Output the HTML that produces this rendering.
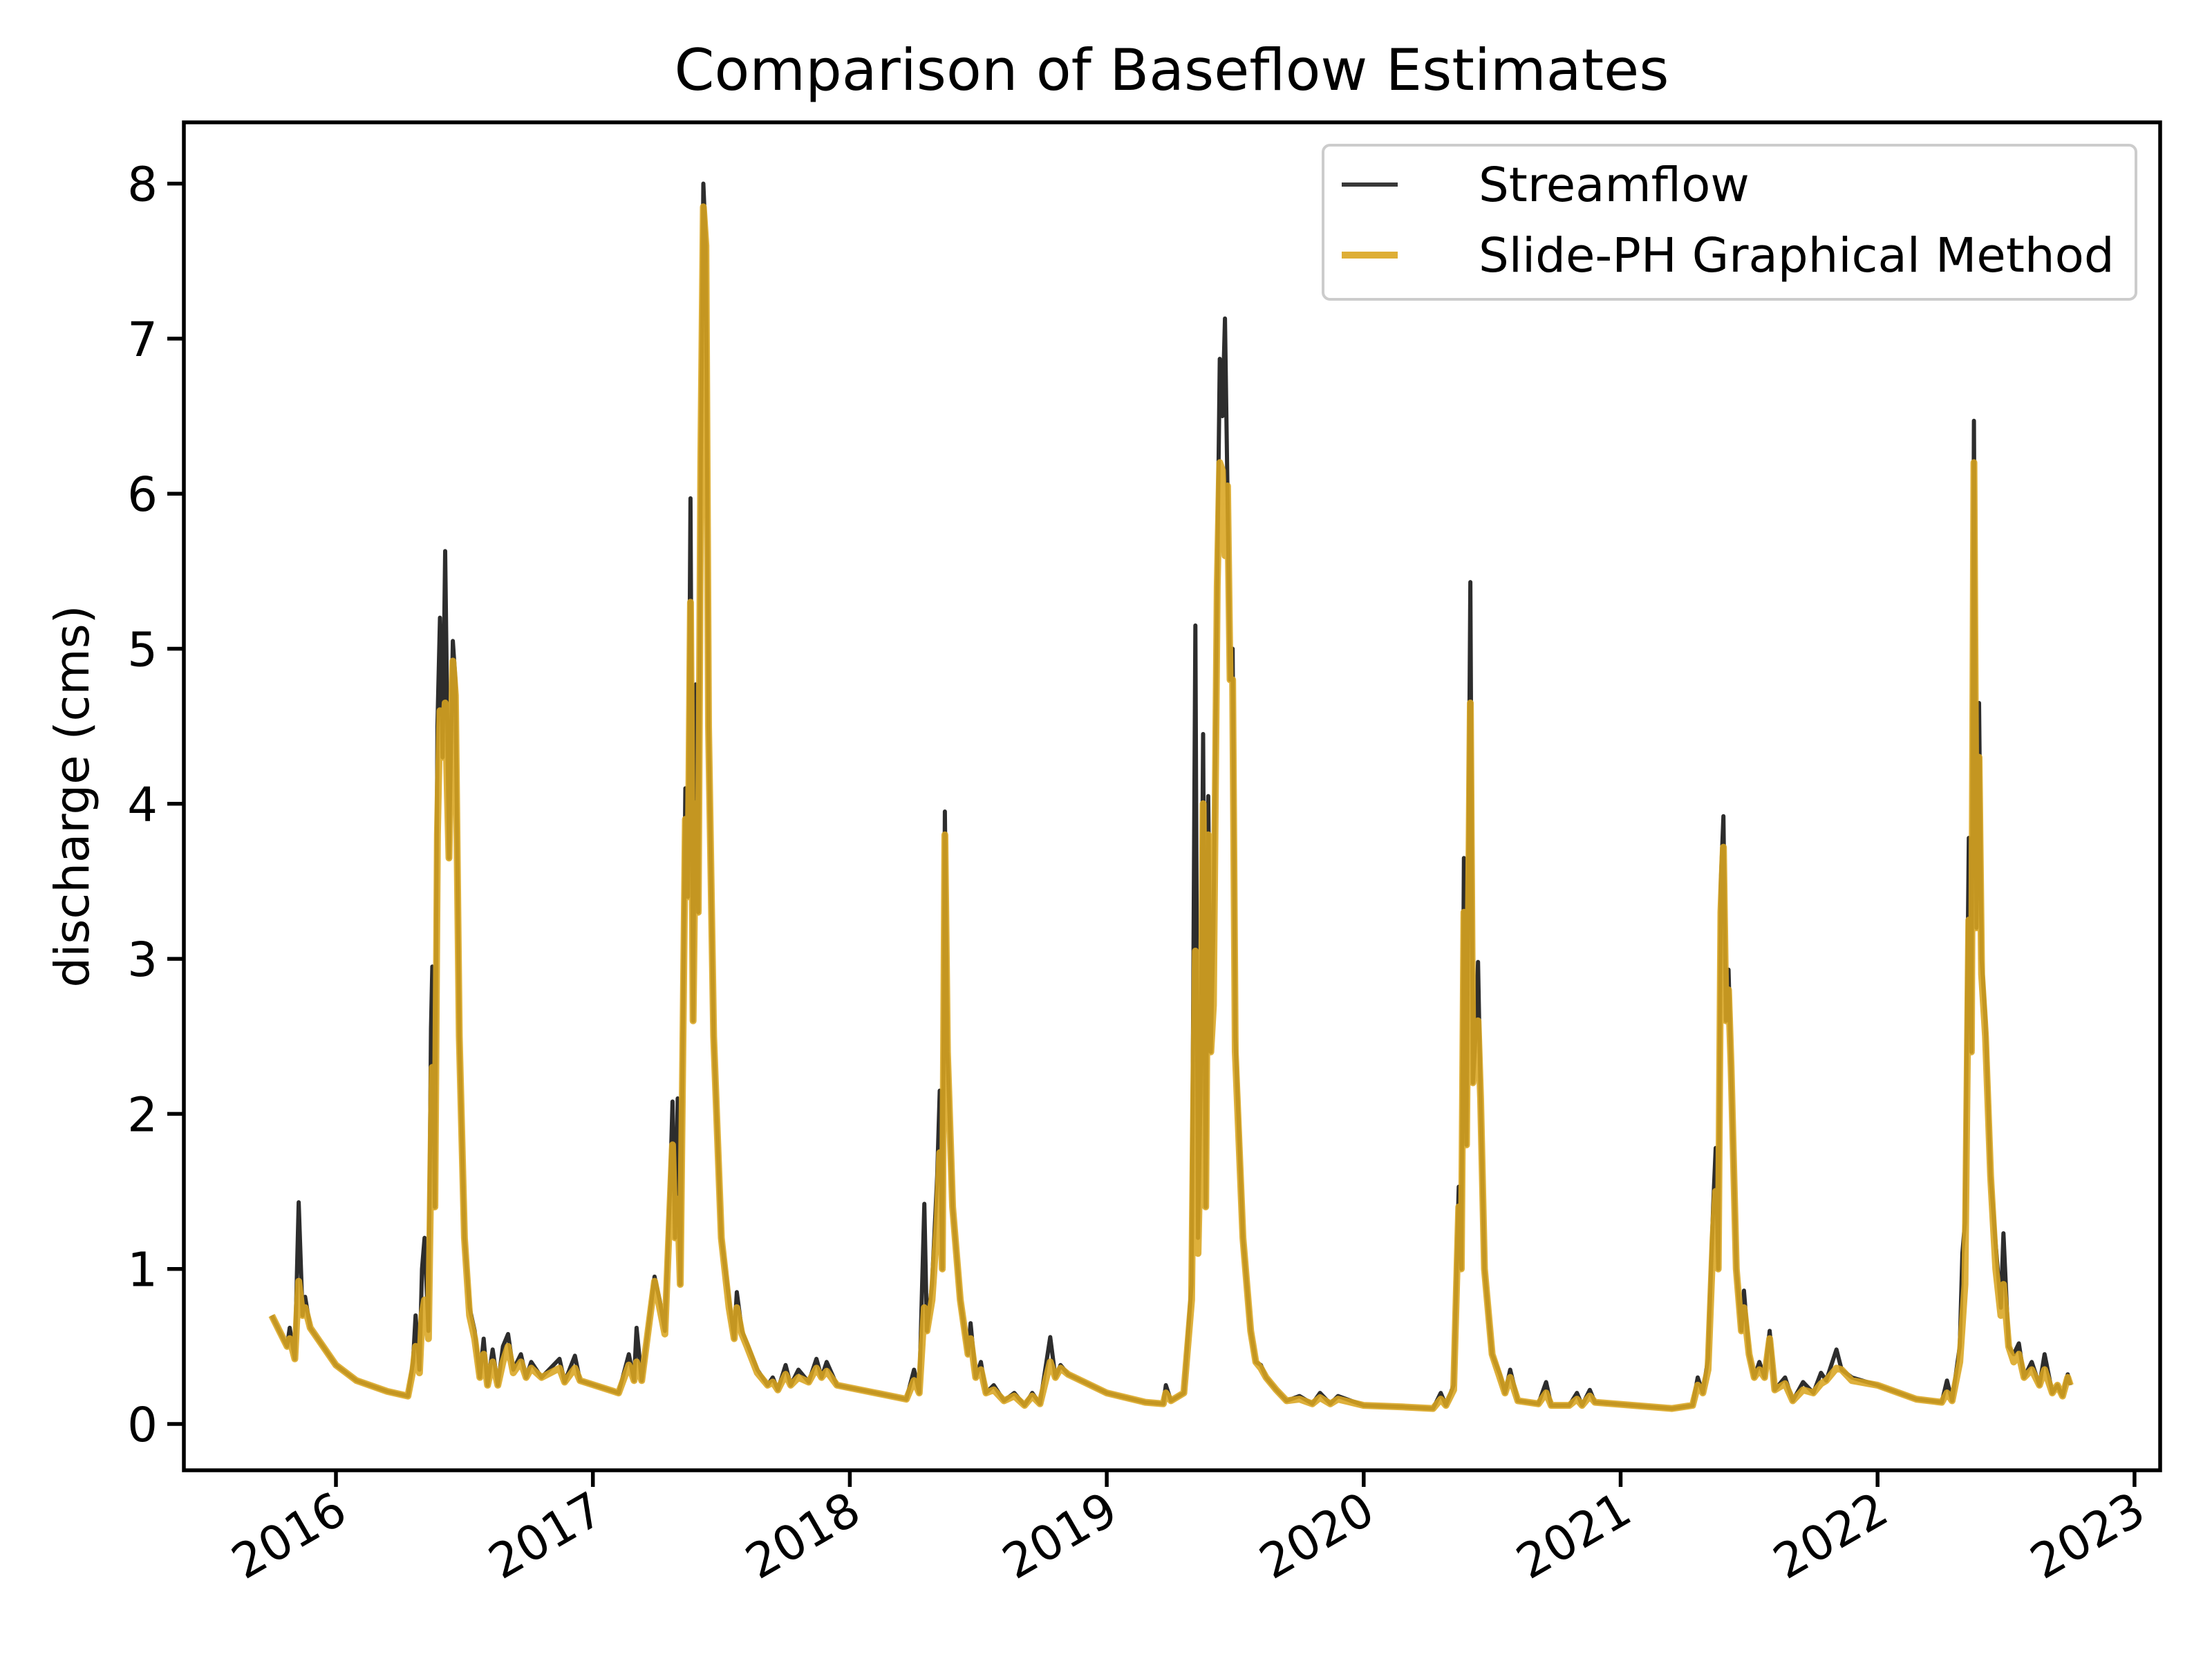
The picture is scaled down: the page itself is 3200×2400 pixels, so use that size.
<!DOCTYPE html>
<html><head><meta charset="utf-8"><style>
html,body{margin:0;padding:0;background:#fff}
svg{display:block;font-family:"DejaVu Sans","Liberation Sans",sans-serif}
</style></head><body>
<svg id="chart" width="3200" height="2400" viewBox="0 0 3200 2400">
<rect width="3200" height="2400" fill="#fff"/>
<text x="1695" y="130" font-size="83" text-anchor="middle">Comparison of Baseflow Estimates</text>
<text transform="translate(128,1152) rotate(-90)" font-size="69" text-anchor="middle">discharge (cms)</text>
<g id="series"></g>
<g id="axes"></g>
<g>
<rect x="1914" y="210" width="1176" height="223" rx="10" fill="#fff" fill-opacity="0.8" stroke="#ccc" stroke-width="4"/>
<line x1="1941" y1="267" x2="2022" y2="267" stroke="#222" stroke-opacity="0.9" stroke-width="6"/>
<text x="2139" y="291" font-size="69">Streamflow</text>
<line x1="1941" y1="369" x2="2022" y2="369" stroke="#DAA520" stroke-opacity="0.9" stroke-width="10"/>
<text x="2139" y="393" font-size="69">Slide-PH Graphical Method</text>
</g>
</svg>
<script>
const years = [2015.75,2015.78,2015.81,2015.82,2015.84,2015.855,2015.87,2015.88,2015.90,2015.95,2016.00,2016.08,2016.20,2016.28,2016.30,2016.31,2016.325,2016.335,2016.345,2016.36,2016.37,2016.375,2016.385,2016.395,2016.405,2016.415,2016.425,2016.44,2016.455,2016.465,2016.48,2016.50,2016.52,2016.54,2016.56,2016.575,2016.59,2016.61,2016.63,2016.65,2016.67,2016.69,2016.72,2016.74,2016.76,2016.80,2016.87,2016.89,2016.93,2016.95,2017.10,2017.14,2017.16,2017.17,2017.19,2017.24,2017.26,2017.28,2017.30,2017.31,2017.32,2017.33,2017.34,2017.36,2017.37,2017.38,2017.39,2017.40,2017.41,2017.42,2017.43,2017.44,2017.45,2017.47,2017.50,2017.53,2017.55,2017.56,2017.58,2017.60,2017.64,2017.68,2017.70,2017.72,2017.75,2017.77,2017.80,2017.84,2017.87,2017.89,2017.91,2017.95,2018.10,2018.22,2018.25,2018.27,2018.29,2018.30,2018.32,2018.34,2018.35,2018.36,2018.37,2018.38,2018.40,2018.43,2018.46,2018.47,2018.49,2018.51,2018.53,2018.56,2018.60,2018.64,2018.68,2018.71,2018.74,2018.78,2018.80,2018.82,2018.85,2019.00,2019.15,2019.22,2019.23,2019.25,2019.30,2019.33,2019.345,2019.355,2019.365,2019.375,2019.385,2019.395,2019.405,2019.415,2019.43,2019.44,2019.45,2019.46,2019.47,2019.48,2019.49,2019.50,2019.53,2019.56,2019.58,2019.60,2019.62,2019.66,2019.70,2019.75,2019.80,2019.83,2019.87,2019.90,2020.00,2020.15,2020.27,2020.30,2020.32,2020.35,2020.37,2020.38,2020.39,2020.40,2020.415,2020.425,2020.435,2020.445,2020.455,2020.47,2020.50,2020.53,2020.55,2020.57,2020.60,2020.68,2020.71,2020.73,2020.80,2020.83,2020.85,2020.88,2020.90,2021.20,2021.28,2021.30,2021.32,2021.34,2021.36,2021.37,2021.38,2021.39,2021.40,2021.41,2021.42,2021.43,2021.45,2021.47,2021.48,2021.50,2021.52,2021.54,2021.56,2021.58,2021.60,2021.64,2021.67,2021.71,2021.75,2021.78,2021.80,2021.84,2021.86,2021.90,2022.00,2022.15,2022.25,2022.27,2022.29,2022.32,2022.33,2022.34,2022.355,2022.365,2022.375,2022.385,2022.395,2022.405,2022.42,2022.44,2022.46,2022.48,2022.49,2022.51,2022.53,2022.55,2022.57,2022.60,2022.63,2022.65,2022.68,2022.70,2022.72,2022.74,2022.75];
const streamflow = [0.70,0.60,0.50,0.62,0.42,1.43,0.70,0.82,0.62,0.50,0.38,0.28,0.21,0.18,0.40,0.70,0.35,1.00,1.20,0.60,2.55,2.95,1.40,4.50,5.20,4.30,5.63,3.65,5.05,4.80,2.50,1.20,0.75,0.60,0.30,0.55,0.25,0.48,0.25,0.50,0.58,0.35,0.45,0.30,0.40,0.30,0.42,0.27,0.44,0.28,0.20,0.45,0.28,0.62,0.28,0.95,0.80,0.60,1.50,2.08,1.20,2.10,0.90,4.10,3.40,5.97,2.60,4.77,3.30,6.20,8.00,7.60,4.50,2.50,1.20,0.80,0.55,0.85,0.60,0.52,0.35,0.25,0.30,0.22,0.38,0.25,0.35,0.27,0.42,0.30,0.40,0.25,0.20,0.16,0.35,0.20,1.42,0.60,0.90,1.60,2.15,1.00,3.95,2.40,1.40,0.80,0.45,0.65,0.30,0.40,0.20,0.25,0.15,0.20,0.12,0.20,0.13,0.56,0.30,0.38,0.32,0.20,0.14,0.13,0.25,0.15,0.20,0.90,5.15,1.20,2.15,4.45,1.40,4.05,2.40,3.20,5.45,6.87,6.50,7.13,6.00,4.80,5.00,2.50,1.20,0.60,0.40,0.38,0.30,0.22,0.15,0.18,0.13,0.20,0.13,0.18,0.12,0.11,0.10,0.20,0.12,0.25,1.53,1.00,3.65,1.80,5.43,2.20,2.50,2.98,2.10,1.00,0.45,0.32,0.20,0.35,0.15,0.13,0.27,0.12,0.12,0.20,0.12,0.22,0.14,0.10,0.12,0.30,0.20,0.42,1.40,1.78,1.00,3.50,3.92,2.60,2.93,2.30,1.00,0.60,0.86,0.45,0.30,0.40,0.30,0.60,0.22,0.30,0.15,0.27,0.20,0.33,0.28,0.48,0.35,0.30,0.25,0.16,0.14,0.28,0.15,0.50,1.10,1.30,3.78,2.40,6.47,3.20,4.65,3.00,2.60,1.60,1.15,0.75,1.23,0.50,0.45,0.52,0.30,0.40,0.25,0.45,0.20,0.25,0.18,0.32,0.25];
const baseflow = [0.70,0.60,0.50,0.55,0.42,0.92,0.70,0.75,0.62,0.50,0.38,0.28,0.21,0.18,0.35,0.50,0.33,0.70,0.80,0.55,1.70,2.30,1.40,3.80,4.60,4.30,4.65,3.65,4.92,4.70,2.50,1.20,0.70,0.55,0.30,0.45,0.25,0.40,0.25,0.40,0.50,0.33,0.40,0.30,0.36,0.30,0.36,0.27,0.36,0.28,0.20,0.38,0.28,0.40,0.28,0.92,0.75,0.58,1.40,1.80,1.20,1.45,0.90,3.90,3.40,5.30,2.60,4.00,3.30,6.20,7.85,7.60,4.50,2.50,1.20,0.75,0.55,0.75,0.58,0.50,0.33,0.25,0.27,0.22,0.32,0.25,0.30,0.27,0.36,0.30,0.34,0.25,0.20,0.16,0.28,0.20,0.75,0.60,0.80,1.30,1.75,1.00,3.80,2.40,1.40,0.80,0.45,0.55,0.30,0.35,0.20,0.22,0.15,0.18,0.12,0.18,0.13,0.40,0.30,0.36,0.32,0.20,0.14,0.13,0.20,0.15,0.20,0.80,3.05,1.10,1.90,4.00,1.40,3.80,2.40,2.70,5.40,6.20,6.15,5.60,6.05,4.80,4.80,2.40,1.20,0.60,0.40,0.36,0.30,0.22,0.15,0.16,0.13,0.17,0.13,0.16,0.12,0.11,0.10,0.16,0.12,0.22,1.40,1.00,3.30,1.80,4.65,2.20,2.40,2.60,2.10,1.00,0.45,0.30,0.20,0.30,0.15,0.13,0.20,0.12,0.12,0.16,0.12,0.18,0.14,0.10,0.12,0.25,0.20,0.35,1.20,1.50,1.00,3.30,3.72,2.60,2.80,2.30,1.00,0.60,0.75,0.45,0.30,0.35,0.30,0.55,0.22,0.26,0.15,0.22,0.20,0.26,0.28,0.36,0.35,0.28,0.25,0.16,0.14,0.20,0.15,0.40,0.65,0.90,3.25,2.40,6.20,3.20,4.30,2.90,2.50,1.60,1.00,0.70,0.90,0.50,0.40,0.45,0.30,0.35,0.25,0.35,0.20,0.25,0.18,0.30,0.25];
const yTicks = [0,1,2,3,4,5,6,7,8];
const xTickYears = [2016,2017,2018,2019,2020,2021,2022,2023];
const xTickLabels = ["2016","2017","2018","2019","2020","2021","2022","2023"];

const NS = "http://www.w3.org/2000/svg";
const L = 266, R = 3125, T = 177, B = 2127;
function xScale(yr){ return 486 + (yr - 2016) * 371.7; }
function yScale(v){ return 2060 - v * 224.3; }

const series = document.getElementById('series');
function drawLine(vals, color, width, opacity, name){
  const p = document.createElementNS(NS,'path');
  let d = '';
  for(let i=0;i<years.length;i++){
    d += (i?'L':'M') + xScale(years[i]).toFixed(1) + ',' + yScale(vals[i]).toFixed(1);
  }
  p.setAttribute('d', d);
  p.setAttribute('fill','none');
  p.setAttribute('stroke', color);
  p.setAttribute('stroke-width', width);
  p.setAttribute('stroke-opacity', opacity);
  p.setAttribute('stroke-linejoin','round');
  
  
  series.appendChild(p);
}
drawLine(streamflow, '#222', 6, 0.95, 'streamflow-line');
drawLine(baseflow, '#DAA520', 10, 0.88, 'baseflow-line');

const axes = document.getElementById('axes');
const frame = document.createElementNS(NS,'rect');
frame.setAttribute('x', L); frame.setAttribute('y', T);
frame.setAttribute('width', R-L); frame.setAttribute('height', B-T);
frame.setAttribute('fill','none'); frame.setAttribute('stroke','#000'); frame.setAttribute('stroke-width','5.5');


axes.appendChild(frame);

yTicks.forEach(v=>{
  const y = yScale(v);
  const t = document.createElementNS(NS,'line');
  t.setAttribute('x1', L-24); t.setAttribute('x2', L); t.setAttribute('y1', y); t.setAttribute('y2', y);
  t.setAttribute('stroke','#000'); t.setAttribute('stroke-width','5.5');
  
  
  axes.appendChild(t);
  const lb = document.createElementNS(NS,'text');
  lb.setAttribute('x', L-38); lb.setAttribute('y', y+25);
  lb.setAttribute('text-anchor','end'); lb.setAttribute('font-size','69');
  lb.textContent = String(v);
  
  
  axes.appendChild(lb);
});
xTickYears.forEach((yr,i)=>{
  const x = xScale(yr);
  const t = document.createElementNS(NS,'line');
  t.setAttribute('x1', x); t.setAttribute('x2', x); t.setAttribute('y1', B); t.setAttribute('y2', B+24);
  t.setAttribute('stroke','#000'); t.setAttribute('stroke-width','5.5');
  
  
  axes.appendChild(t);
  const lb = document.createElementNS(NS,'text');
  lb.setAttribute('transform', 'translate(' + (x-6) + ',' + (B+26) + ') rotate(-30)');
  lb.setAttribute('text-anchor','end'); lb.setAttribute('font-size','69');
  lb.setAttribute('y','52');
  lb.textContent = xTickLabels[i];
  
  
  axes.appendChild(lb);
});
</script>
</body></html>
